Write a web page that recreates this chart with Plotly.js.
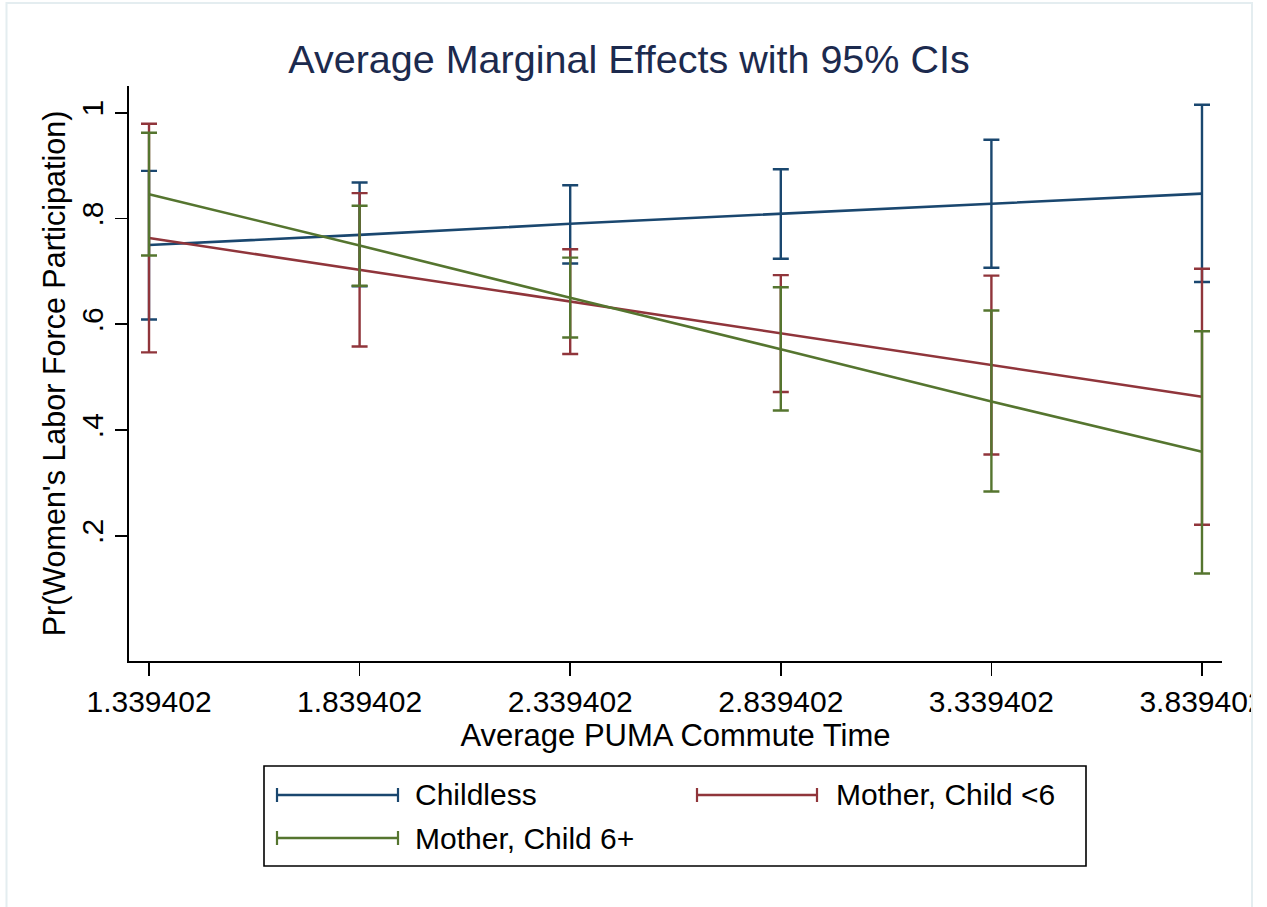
<!DOCTYPE html>
<html>
<head>
<meta charset="utf-8">
<script src="https://cdn.plot.ly/plotly-3.0.1.min.js"></script>
<style>
  html, body { margin: 0; padding: 0; background: #ffffff; }
  #chart { width: 1267px; height: 907px; }
</style>
</head>
<body>
<div id="chart"></div>
<script>
// ---- data ----
const commuteTime = [1.339402, 1.839402, 2.339402, 2.839402, 3.339402, 3.839402];
const xTickLabels = ["1.339402", "1.839402", "2.339402", "2.839402", "3.339402", "3.839402"];
const yTickValues = [0.2, 0.4, 0.6, 0.8, 1.0];
const yTickLabels = [".2", ".4", ".6", ".8", "1"];

const childlessEst   = [0.750, 0.769, 0.790, 0.809, 0.827, 0.847];
const childlessLower = [0.609, 0.672, 0.715, 0.724, 0.707, 0.680];
const childlessUpper = [0.890, 0.868, 0.863, 0.893, 0.949, 1.015];

const under6Est   = [0.763, 0.703, 0.643, 0.583, 0.522, 0.463];
const under6Lower = [0.547, 0.558, 0.544, 0.472, 0.354, 0.221];
const under6Upper = [0.979, 0.848, 0.742, 0.693, 0.692, 0.705];

const over6Est   = [0.846, 0.749, 0.650, 0.553, 0.454, 0.359];
const over6Lower = [0.730, 0.673, 0.575, 0.437, 0.284, 0.129];
const over6Upper = [0.962, 0.824, 0.726, 0.670, 0.626, 0.587];

const seriesNames = ["Childless", "Mother, Child <6", "Mother, Child 6+"];
const seriesColors = ["#1a476f", "#90353b", "#55752f"];

// ---- geometry helpers (pixel -> paper) ----
const W = 1267, H = 907;
const M = { l: 129, r: 45, t: 86, b: 246 };
const PW = W - M.l - M.r, PH = H - M.t - M.b;
const px = v => (v - M.l) / PW;
const py = v => (H - M.b - v) / PH;

const FONT = "Arial, 'Liberation Sans', Helvetica, sans-serif";

function makeTrace(est, lo, hi, name, color) {
  return {
    type: "scatter",
    mode: "lines",
    name: name,
    x: commuteTime,
    y: est,
    line: { color: color, width: 2.6 },
    error_y: {
      type: "data",
      symmetric: false,
      array: hi.map((h, i) => h - est[i]),
      arrayminus: est.map((e, i) => e - lo[i]),
      color: color,
      thickness: 2.4,
      width: 8
    },
    showlegend: false,
    hoverinfo: "x+y+name"
  };
}

const traces = [
  makeTrace(childlessEst, childlessLower, childlessUpper, seriesNames[0], seriesColors[0]),
  makeTrace(under6Est, under6Lower, under6Upper, seriesNames[1], seriesColors[1]),
  makeTrace(over6Est, over6Lower, over6Upper, seriesNames[2], seriesColors[2])
];

// ---- custom Stata-style legend ----
const shapes = [];
const annotations = [];
shapes.push({
  type: "rect", xref: "paper", yref: "paper",
  x0: px(264), x1: px(1086), y0: py(766), y1: py(866),
  line: { color: "#000000", width: 1.6 }, fillcolor: "rgba(0,0,0,0)"
});
const legendItems = [
  { lx0: 277, lx1: 398, ly: 795, tx: 413 },
  { lx0: 697, lx1: 817, ly: 795, tx: 834 },
  { lx0: 277, lx1: 398, ly: 838, tx: 413 }
];
legendItems.forEach((it, i) => {
  const c = seriesColors[i];
  shapes.push({ type: "line", xref: "paper", yref: "paper",
    x0: px(it.lx0), x1: px(it.lx1), y0: py(it.ly), y1: py(it.ly),
    line: { color: c, width: 2.4 } });
  [it.lx0, it.lx1].forEach(cx => {
    shapes.push({ type: "line", xref: "paper", yref: "paper",
      x0: px(cx), x1: px(cx), y0: py(it.ly - 7), y1: py(it.ly + 7),
      line: { color: c, width: 2.2 } });
  });
  annotations.push({
    xref: "paper", yref: "paper", x: px(it.tx), y: py(it.ly),
    xanchor: "left", yanchor: "middle", showarrow: false,
    text: seriesNames[i].replace("<", "&lt;"),
    font: { family: FONT, size: 30, color: "#000000" }
  });
});

// faint screenshot frame and right-edge clipping
shapes.push({
  type: "rect", xref: "paper", yref: "paper", layer: "above",
  x0: px(1253), x1: px(1275), y0: py(-10), y1: py(920),
  line: { width: 0 }, fillcolor: "#ffffff"
});
shapes.push({
  type: "rect", xref: "paper", yref: "paper", layer: "above",
  x0: px(6.5), x1: px(1252), y0: py(3), y1: py(915),
  line: { color: "#e4edf0", width: 2 }, fillcolor: "rgba(0,0,0,0)"
});

const layout = {
  width: W, height: H,
  margin: M,
  paper_bgcolor: "#ffffff",
  plot_bgcolor: "#ffffff",
  showlegend: false,
  font: { family: FONT, size: 30, color: "#000000" },
  title: {
    text: "Average Marginal Effects with 95% CIs",
    xref: "container", yref: "container",
    x: 629 / W, y: 1 - 59 / H,
    xanchor: "center", yanchor: "middle",
    font: { family: FONT, size: 39.5, color: "#1c2a4e" }
  },
  xaxis: {
    range: [1.2919, 3.8869],
    tickmode: "array",
    tickvals: commuteTime,
    ticktext: xTickLabels,
    showgrid: false, zeroline: false,
    showline: true, linecolor: "#000000", linewidth: 1.6,
    ticks: "outside", ticklen: 13, tickwidth: 1.6, tickcolor: "#000000",
    tickfont: { family: FONT, size: 30, color: "#000000" },
    title: {
      text: "Average PUMA Commute Time",
      font: { family: FONT, size: 31, color: "#000000" },
      standoff: 0
    }
  },
  yaxis: {
    range: [-0.0365, 1.0505],
    tickmode: "array",
    tickvals: yTickValues,
    ticktext: yTickLabels,
    tickangle: -90,
    showgrid: false, zeroline: false,
    showline: true, linecolor: "#000000", linewidth: 1.6,
    ticks: "outside", ticklen: 12, tickwidth: 1.6, tickcolor: "#000000",
    tickfont: { family: FONT, size: 30, color: "#000000" },
    title: {
      text: "Pr(Women's Labor Force Participation)",
      font: { family: FONT, size: 30.5, color: "#000000" },
      standoff: 2
    }
  },
  shapes: shapes,
  annotations: annotations
};

Plotly.newPlot("chart", traces, layout, { displayModeBar: false, staticPlot: true });
</script>
</body>
</html>
